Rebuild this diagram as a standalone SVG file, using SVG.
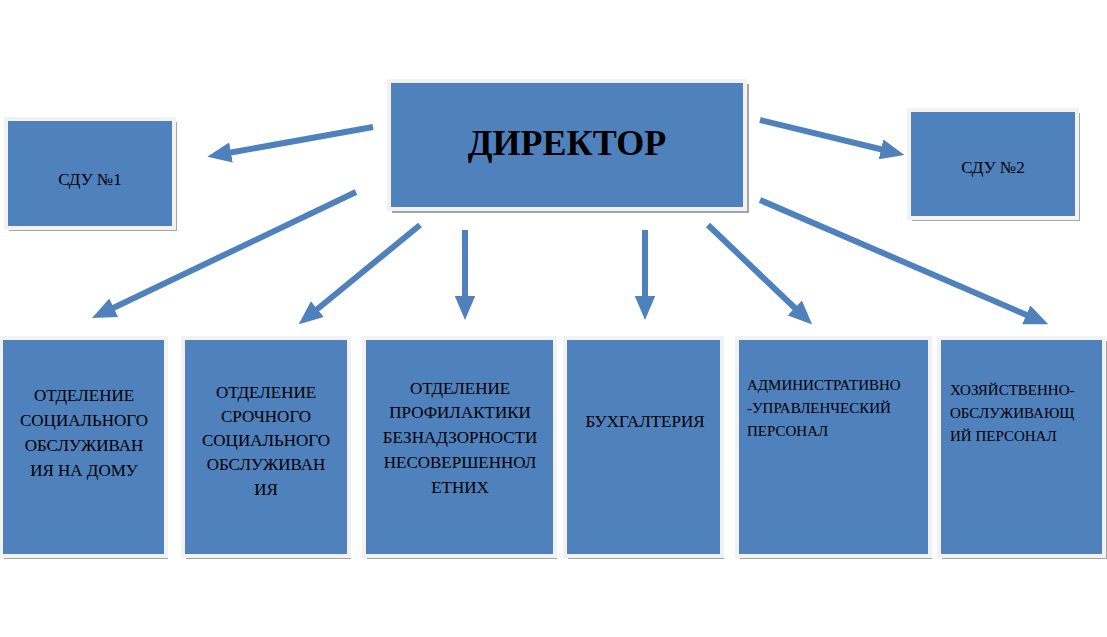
<svg xmlns="http://www.w3.org/2000/svg" width="1107" height="637" viewBox="0 0 1107 637">
<style>
.b{fill:#4f81bd;stroke:#f2f2f2;stroke-width:4}
.s{fill:#a5a5a5}
.t{font-family:"Liberation Serif",serif;font-size:17px;fill:#000}
.c{text-anchor:middle}
.a{stroke:#4f81bd;stroke-width:6;fill:none;marker-end:url(#h)}
</style>
<defs>
<marker id="h" markerUnits="strokeWidth" markerWidth="4" markerHeight="3.4" refX="0.5" refY="1.7" orient="auto" viewBox="0 0 4 3.4"><path d="M0,0L4,1.7L0,3.4z" fill="#4f81bd"/></marker>
</defs>
<rect width="1107" height="637" fill="#fff"/>
<g id="connectors">
<line class="a" x1="373" y1="127" x2="228" y2="153"/>
<line class="a" x1="760" y1="120" x2="884" y2="150"/>
<line class="a" x1="356" y1="192" x2="111" y2="309"/>
<line class="a" x1="420" y1="225" x2="315" y2="311"/>
<line class="a" x1="465" y1="230" x2="465" y2="299"/>
<line class="a" x1="645" y1="230" x2="645" y2="299"/>
<line class="a" x1="708" y1="225" x2="797" y2="310"/>
<line class="a" x1="760" y1="200" x2="1029" y2="316"/>
</g>
<g id="director"><rect class="s" x="392" y="84" width="357" height="129"/><rect class="b" x="389" y="81" width="356" height="128"/><text class="t c" x="567" y="155" style="font-size:36px;font-weight:bold">ДИРЕКТОР</text></g>
<g id="sdu1"><rect class="s" x="9" y="122" width="168" height="109"/><rect class="b" x="6" y="119" width="168" height="109"/><text class="t c" x="90" y="185">СДУ №1</text></g>
<g id="sdu2"><rect class="s" x="912" y="113" width="168" height="108"/><rect class="b" x="909" y="110" width="168" height="108"/><text class="t c" x="993" y="173">СДУ №2</text></g>
<g id="n1"><rect class="s" x="4" y="341" width="164" height="218"/><rect class="b" x="1" y="338" width="165" height="218"/><text class="t c" x="84"><tspan x="84" y="401">ОТДЕЛЕНИЕ</tspan><tspan x="84" y="426">СОЦИАЛЬНОГО</tspan><tspan x="84" y="451">ОБСЛУЖИВАН</tspan><tspan x="84" y="476">ИЯ НА ДОМУ</tspan></text></g>
<g id="n2"><rect class="s" x="186" y="341" width="165" height="218"/><rect class="b" x="183" y="338" width="166" height="218"/><text class="t c"><tspan x="266" y="398">ОТДЕЛЕНИЕ</tspan><tspan x="266" y="422">СРОЧНОГО</tspan><tspan x="266" y="446">СОЦИАЛЬНОГО</tspan><tspan x="266" y="470">ОБСЛУЖИВАН</tspan><tspan x="266" y="495">ИЯ</tspan></text></g>
<g id="n3"><rect class="s" x="367" y="341" width="190" height="218"/><rect class="b" x="364" y="338" width="191" height="218"/><text class="t c"><tspan x="460" y="394">ОТДЕЛЕНИЕ</tspan><tspan x="460" y="418">ПРОФИЛАКТИКИ</tspan><tspan x="460" y="443">БЕЗНАДЗОРНОСТИ</tspan><tspan x="460" y="468">НЕСОВЕРШЕННОЛ</tspan><tspan x="460" y="493">ЕТНИХ</tspan></text></g>
<g id="n4"><rect class="s" x="568" y="341" width="156" height="218"/><rect class="b" x="565" y="338" width="157" height="218"/><text class="t c" x="645" y="427">БУХГАЛТЕРИЯ</text></g>
<g id="n5"><rect class="s" x="740" y="341" width="192" height="218"/><rect class="b" x="737" y="338" width="193" height="218"/><text class="t" style="font-size:15px"><tspan x="747" y="390">АДМИНИСТРАТИВНО</tspan><tspan x="747" y="413">-УПРАВЛЕНЧЕСКИЙ</tspan><tspan x="747" y="436">ПЕРСОНАЛ</tspan></text></g>
<g id="n6"><rect class="s" x="942" y="341" width="165" height="218"/><rect class="b" x="939" y="338" width="165" height="218"/><text class="t" style="font-size:15px"><tspan x="950" y="395">ХОЗЯЙСТВЕННО-</tspan><tspan x="950" y="418">ОБСЛУЖИВАЮЩ</tspan><tspan x="950" y="441">ИЙ ПЕРСОНАЛ</tspan></text></g>
</svg>
